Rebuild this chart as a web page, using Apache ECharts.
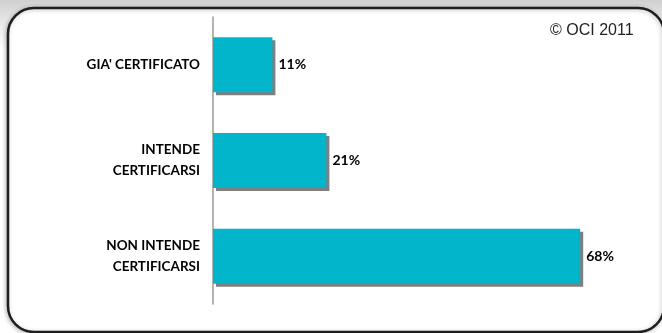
<!DOCTYPE html>
<html><head><meta charset="utf-8">
<script src="https://cdn.jsdelivr.net/npm/echarts@6/dist/echarts.min.js"></script>
<style>html,body{margin:0;padding:0;background:#fff}#c{width:662px;height:333px}</style>
</head><body><div id="c"></div>
<script>
const categories = ["GIA' CERTIFICATO", "INTENDE\nCERTIFICARSI", "NON INTENDE\nCERTIFICARSI"];
const values = [11, 21, 68];
const copyrightText = "© OCI 2011";

const chart = echarts.init(document.getElementById('c'), null, {renderer: 'canvas'});
chart.setOption({
  animation: false,
  backgroundColor: {
    type: 'linear', x: 0, y: 0, x2: 0, y2: 1,
    colorStops: [{offset: 0, color: '#d0d0d0'}, {offset: 0.06, color: '#e6e6e6'}, {offset: 0.15, color: '#ffffff'}, {offset: 1, color: '#ffffff'}]
  },
  graphic: [
    {type: 'rect', z: -1, shape: {x: 8, y: 8, width: 656, height: 324, r: 26},
     style: {fill: '#ffffff', stroke: '#1e1e1e', lineWidth: 2.5, shadowBlur: 4, shadowColor: 'rgba(0,0,0,0.25)', shadowOffsetX: -1, shadowOffsetY: 1}},
    {type: 'text', left: 550, top: 23, z: 5,
     style: {text: copyrightText, font: '16px "Liberation Sans", Arial, sans-serif', fill: '#222'}}
  ],
  grid: {left: 213, right: 17, top: 17, bottom: 29, containLabel: false},
  xAxis: {type: 'value', min: 0, max: 80, show: false},
  yAxis: {
    type: 'category', inverse: true, data: categories,
    axisLine: {show: true, lineStyle: {color: '#9a9a9a', width: 1.5}},
    axisTick: {show: false},
    axisLabel: {margin: 13, color: '#000', fontFamily: 'Lato', fontWeight: 'bold', fontSize: 13.5, lineHeight: 21, align: 'right'}
  },
  series: [{
    type: 'bar', data: values, barWidth: 55,
    itemStyle: {color: '#02B5CB', shadowColor: '#7f7f7f', shadowOffsetX: 3, shadowOffsetY: 3, shadowBlur: 0},
    label: {show: true, position: 'right', distance: 6, formatter: '{c}%', color: '#000', fontFamily: 'Lato', fontWeight: 'bold', fontSize: 14}
  }]
});
</script></body></html>
